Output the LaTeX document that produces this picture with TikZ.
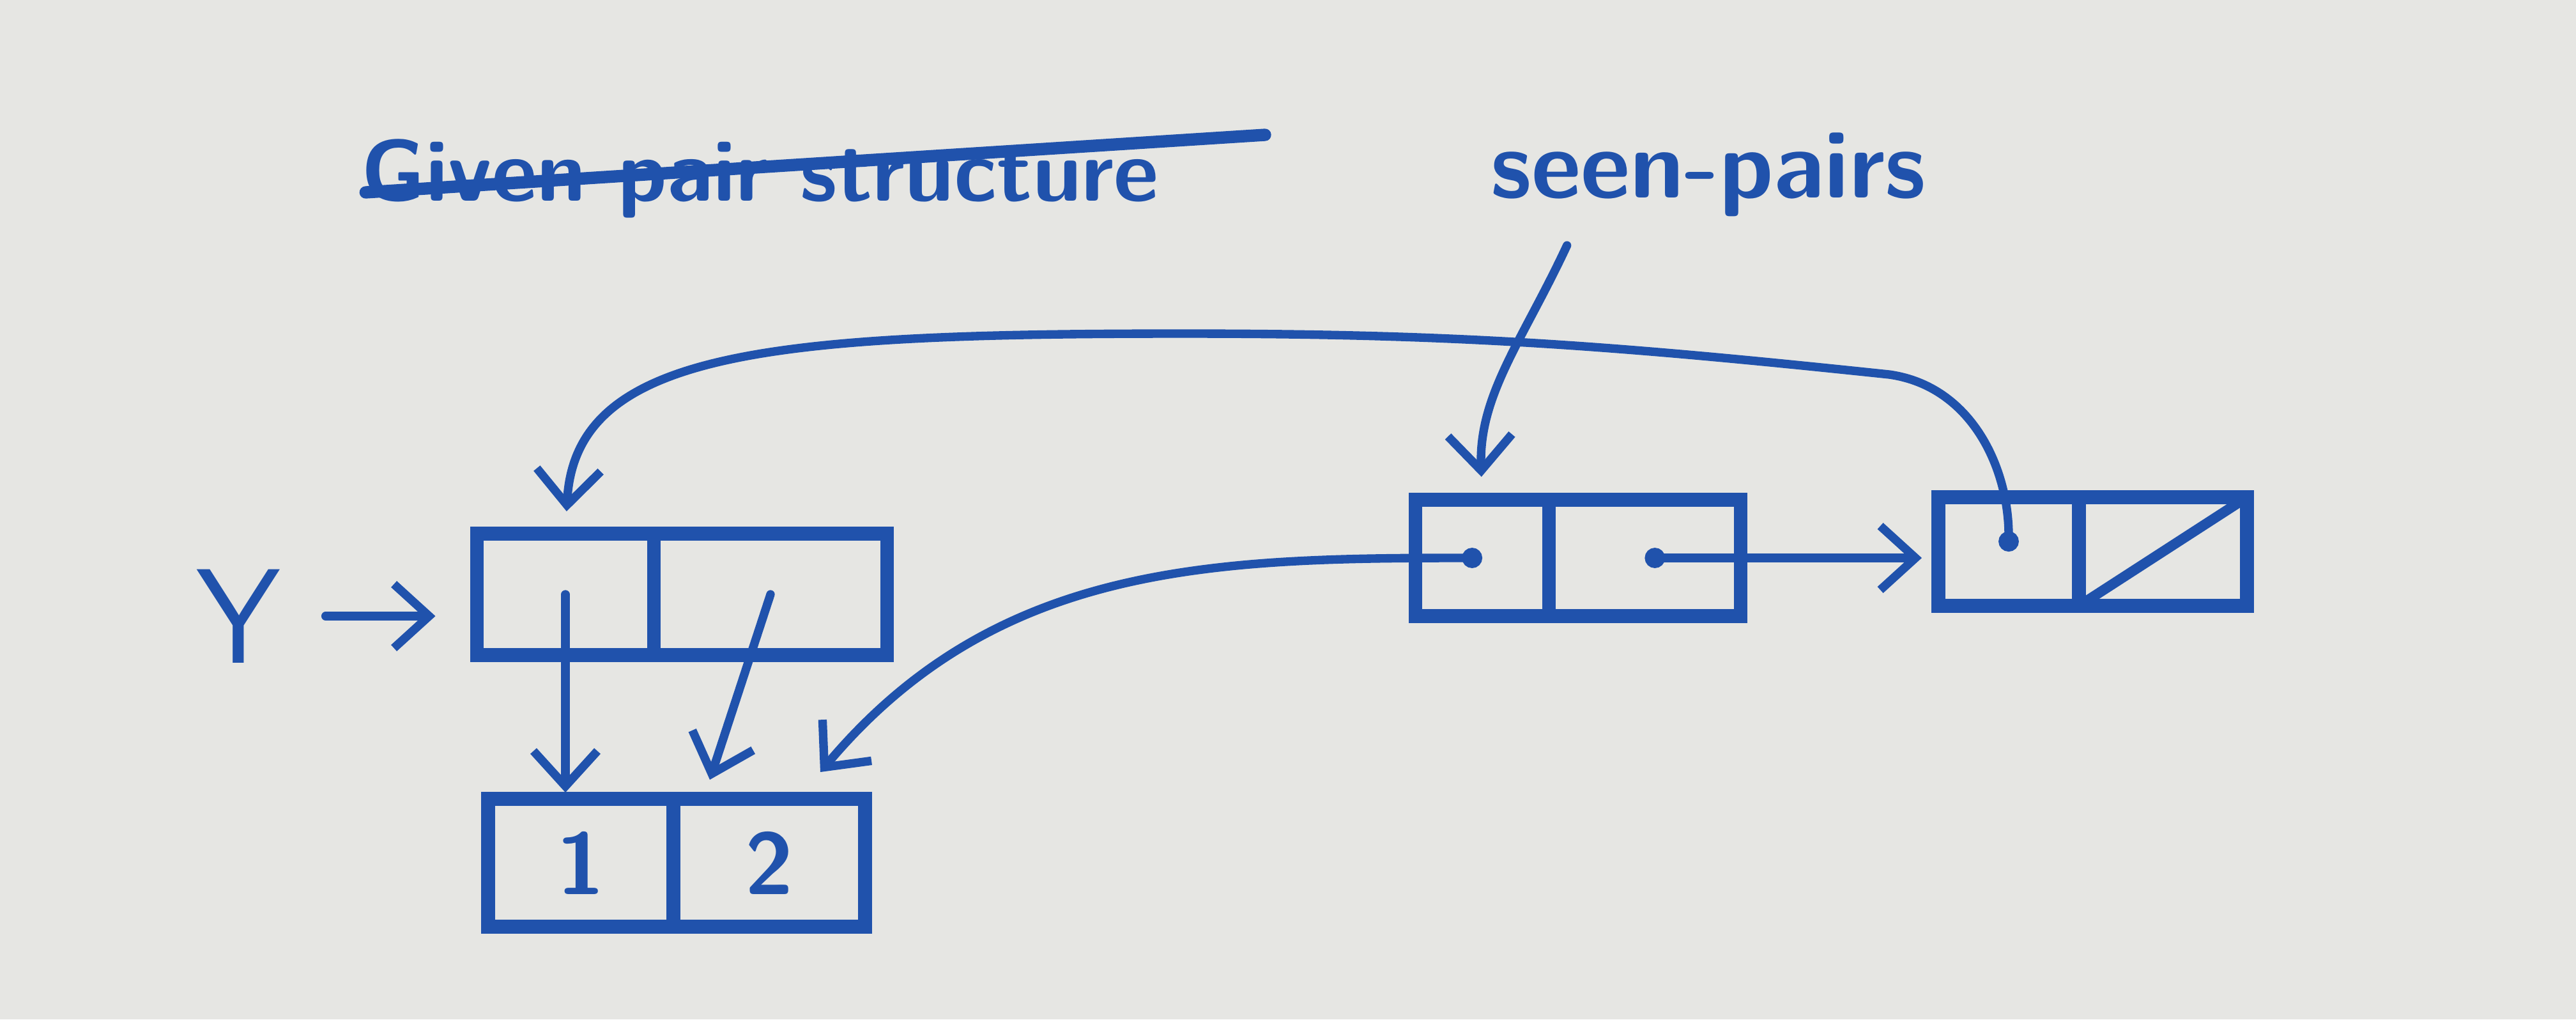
\documentclass[tikz,border=0pt]{standalone}
\usepackage{tikz}
\usetikzlibrary{calc}
\usetikzlibrary{arrows.meta, positioning}

\definecolor{ink}{RGB}{32,82,172}
\definecolor{paper}{RGB}{230,230,227}

\begin{document}
\begin{tikzpicture}[
    every node/.style={font=\sffamily\bfseries\fontsize{39}{47}\selectfont, text=ink, inner sep=0pt},
    cell/.style={draw=ink, line width=6pt, outer sep=0pt, minimum height=1.9cm},
    ptr/.style={draw=ink, line width=3.8pt, line cap=round, -{Straight Barb[length=0.55cm, width=1.0cm]}},
    dotptr/.style={ptr, {Circle[length=9pt]}-{Straight Barb[length=0.55cm, width=1.0cm]}}
]

% Paper
\fill[paper] (0,0) rectangle (40.32,-15.95);

% Titles
\node[anchor=base] (title) at (11.9,-3.14) {Given pair structure};
\node[anchor=base, font=\sffamily\bfseries\fontsize{43}{51}\selectfont] (seen) at (26.74,-3.09) {seen-pairs};
\coordinate (strikeend) at (19.8,-2.11);
\draw[ink, line width=5.5pt, line cap=round] ($(title.base west)+(0.07,0.13)$) -- (strikeend);

% Pair pointed to by Y
\node[font=\sffamily\fontsize{60}{70}\selectfont] (Y) at (3.73,-9.64) {Y};
\node[cell, minimum width=2.77cm] (ycar) at (8.85,-9.3) {};
\node[cell, minimum width=3.65cm, right=0pt of ycar] (ycdr) {};

% Pair holding 1 and 2
\node[cell, minimum width=2.9cm, minimum height=2.0cm] (num1) at (9.09,-13.5) {1};
\node[cell, minimum width=3.0cm, minimum height=2.0cm, right=0pt of num1] (num2) {2};

% seen-pairs list
\node[cell, minimum width=2.09cm, minimum height=1.82cm] (spcar) at (23.2,-8.73) {};
\node[cell, minimum width=3.0cm, minimum height=1.82cm, right=0pt of spcar] (spcdr) {};
\node[cell, minimum width=2.2cm, minimum height=1.7cm] (lastcar) at (31.44,-8.63) {};
\node[cell, minimum width=2.63cm, minimum height=1.7cm, right=0pt of lastcar] (lastcdr) {};
\draw[ink, line width=4.5pt, line cap=round] (lastcdr.south west) -- (lastcdr.north east);

% Pointers
\draw[ptr, shorten <=0.7cm, shorten >=0.65cm] (Y) -- (Y -| ycar.west);
\draw[ptr, shorten >=0.1cm] (ycar.center) -- (ycar.center |- num1.north);
\draw[ptr] (ycdr.center) -- ($(num2.north west)+(0.57,0.3)$);
\draw[dotptr] (spcar.center) to[out=180, in=50] ($(num2.north east)+(-0.7,0.42)$);
\draw[dotptr, shorten >=0.26cm] (spcdr.center) -- (spcdr.center -| lastcar.west);
\draw[ptr, shorten >=0.36cm] ($(seen.south west)+(1.2,-0.45)$) to[out=-115, in=92] (spcar.north);

% Back pointer over the top
\coordinate (bend) at (29.57,-5.86);
\coordinate (arctop) at (18.51,-5.22);
\draw[dotptr, shorten >=0.35cm] (lastcar.center) to[out=90, in=-8] (bend)
    to[out=174, in=0] (arctop) .. controls (12,-5.22) and (9.0,-5.5) .. (ycar.north);

\end{tikzpicture}
\end{document}
